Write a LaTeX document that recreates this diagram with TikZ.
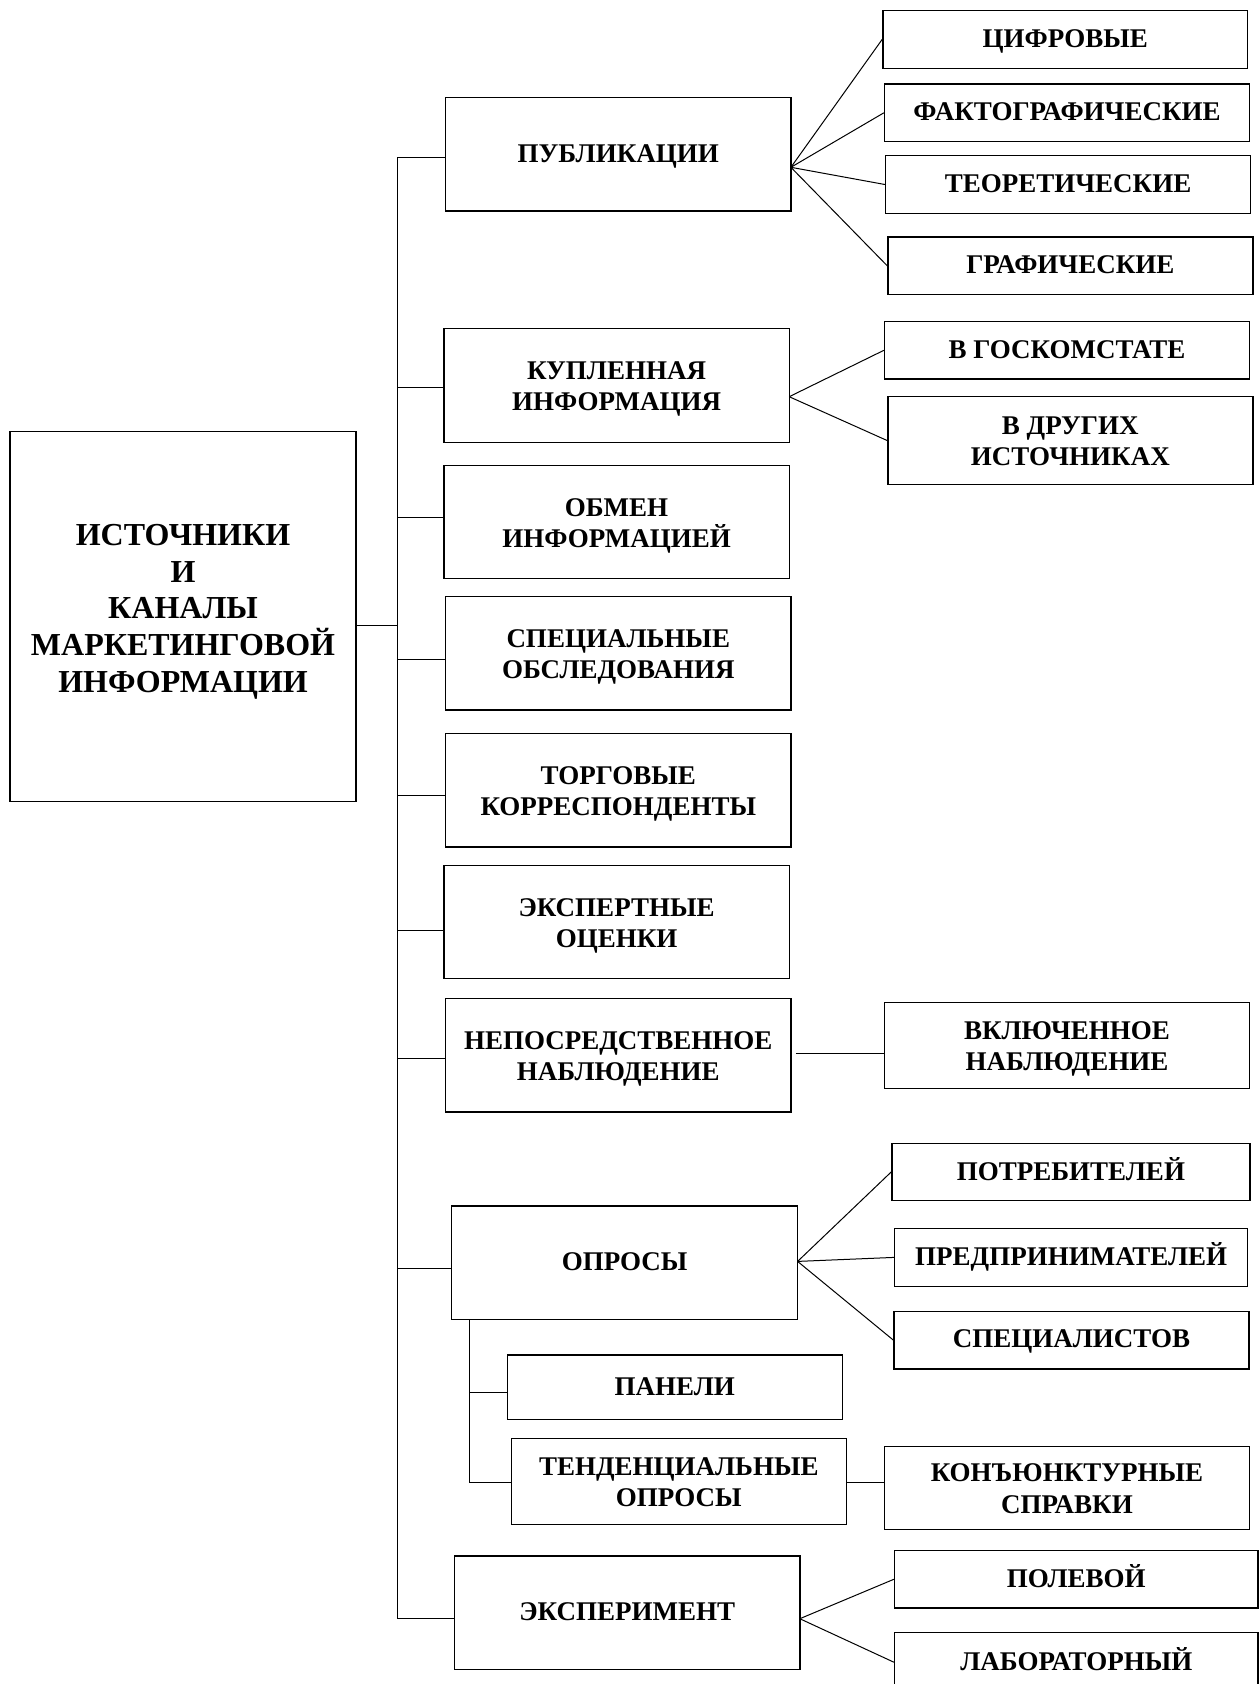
\documentclass[tikz,border=0pt]{standalone}
\usepackage{fontspec}
\setmainfont{Liberation Serif}
\usetikzlibrary{calc}
\tikzset{
  bx/.style={draw, line width=1.4pt, align=center, inner sep=0pt,
    font=\bfseries\fontsize{27}{31.2}\selectfont,
    execute at begin node={\rule{0pt}{21.4pt}},
    execute at end node={\rule[-6pt]{0pt}{6pt}}},
  two/.style={execute at begin node={\rule{0pt}{56.3pt}}},
  ln/.style={line width=1pt},
  bigtxt/.style={align=center, inner sep=0pt, font=\bfseries\fontsize{32}{36.7}\selectfont},
}
\newcommand\mybox[7][]{%
  \node[bx, #1, minimum width={(#4-#3)*1pt}, minimum height={(#6-#5)*1pt}] (#2)
    at ({(#3+#4)/2},{(#5+#6)/2}) {#7};}
\begin{document}
\begin{tikzpicture}[x=1pt,y=-1pt]
\clip (0,0) rectangle (1259,1684);
\fill[white] (0,0) rectangle (1259,1684);

% main box
\mybox{main}{10}{356}{431.5}{801.5}{}
\node[bigtxt] (maintxt) at (183,611.8) {ИСТОЧНИКИ\\И\\КАНАЛЫ\\МАРКЕТИНГОВОЙ\\ИНФОРМАЦИИ};

% level 1
\mybox{pub}{445.6}{790.9}{97.7}{211}{ПУБЛИКАЦИИ}
\mybox[two]{kup}{443.9}{789.2}{328.7}{442.3}{КУПЛЕННАЯ\\ИНФОРМАЦИЯ}
\mybox[two]{obm}{443.9}{789.2}{465.7}{578.7}{ОБМЕН\\ИНФОРМАЦИЕЙ}
\mybox[two]{spec}{445.6}{790.9}{596.7}{710}{СПЕЦИАЛЬНЫЕ\\ОБСЛЕДОВАНИЯ}
\mybox[two]{torg}{445.6}{790.9}{733.7}{847}{ТОРГОВЫЕ\\КОРРЕСПОНДЕНТЫ}
\mybox[two]{eksp}{443.9}{789.2}{865.7}{978.7}{ЭКСПЕРТНЫЕ\\ОЦЕНКИ}
\mybox[two]{nep}{445.6}{790.9}{998.7}{1112}{НЕПОСРЕДСТВЕННОЕ\\НАБЛЮДЕНИЕ}
\mybox{opr}{451.7}{797.6}{1206}{1319.7}{ОПРОСЫ}
\mybox{exper}{454.6}{799.8}{1555.8}{1669.5}{ЭКСПЕРИМЕНТ}

% right column
\mybox{cif}{882.8}{1247.7}{10.7}{68.3}{ЦИФРОВЫЕ}
\mybox{fakt}{884.5}{1249.4}{84}{141.7}{ФАКТОГРАФИЧЕСКИЕ}
\mybox{teor}{885.6}{1250.5}{155.7}{213.3}{ТЕОРЕТИЧЕСКИЕ}
\mybox{graf}{887.8}{1252.8}{237}{294.3}{ГРАФИЧЕСКИЕ}
\mybox{gosk}{884.5}{1249.4}{321.7}{379}{В ГОСКОМСТАТЕ}
\mybox[two]{drug}{887.8}{1252.8}{396.7}{484.3}{В ДРУГИХ\\ИСТОЧНИКАХ}
\mybox[two]{vkl}{884.5}{1249.4}{1002.7}{1088.3}{ВКЛЮЧЕННОЕ\\НАБЛЮДЕНИЕ}
\mybox{potr}{891.8}{1250}{1143.4}{1200.7}{ПОТРЕБИТЕЛЕЙ}
\mybox{pred}{894.6}{1247.7}{1228.6}{1286.2}{ПРЕДПРИНИМАТЕЛЕЙ}
\mybox{spc}{894}{1248.8}{1311.3}{1368.8}{СПЕЦИАЛИСТОВ}
\mybox{pan}{507.2}{842.4}{1355}{1419.7}{ПАНЕЛИ}
\mybox[two]{tend}{511.2}{846.4}{1438.5}{1524.7}{ТЕНДЕНЦИАЛЬНЫЕ\\ОПРОСЫ}
\mybox[two]{kon}{884.5}{1249.4}{1446.2}{1529.6}{КОНЪЮНКТУРНЫЕ\\СПРАВКИ}
\mybox{pol}{894.6}{1258}{1550.5}{1608}{ПОЛЕВОЙ}
\mybox{lab}{894.6}{1258}{1632.4}{1692}{ЛАБОРАТОРНЫЙ}

% trunk
\coordinate (ttop) at (397,157.3);
\coordinate (tbot) at (397,1618.7);
\coordinate (jm) at (397,625);
\draw[ln] (ttop) -- (tbot);
\draw[ln] (main.east |- jm) -- (jm);
\foreach \n/\yy in {pub/157.3, kup/387.7, obm/517.3, spec/659.3, torg/795,
                    eksp/930.7, nep/1058.3, opr/1268.9, exper/1618.7}
  \draw[ln] (397,\yy) -- (\n.west |- 0,\yy);

% fans
\coordinate (pf) at (790.9,167.3);
\foreach \n in {cif,fakt,teor,graf} \draw[ln] (pf) -- (\n.west);
\coordinate (kf) at (789.2,396.7);
\foreach \n in {gosk,drug} \draw[ln] (kf) -- (\n.west);
\coordinate (nv) at (795.9,1053.3);
\draw[ln] (nv) -- (vkl.west |- nv);
\coordinate (of) at (797.6,1261.4);
\foreach \n in {potr,pred,spc} \draw[ln] (of) -- (\n.west);
\coordinate (ef) at (799.8,1618.7);
\foreach \n in {pol,lab} \draw[ln] (ef) -- (\n.west);

% opros sub-branch
\coordinate (st) at (469.7,1482.6);
\draw[ln] (opr.south -| st) -- (st);
\draw[ln] (469.7,1392.2) -- (pan.west |- 0,1392.2);
\draw[ln] (st) -- (tend.west |- st);
\draw[ln] (tend.east |- st) -- (kon.west |- st);
\end{tikzpicture}
\end{document}
